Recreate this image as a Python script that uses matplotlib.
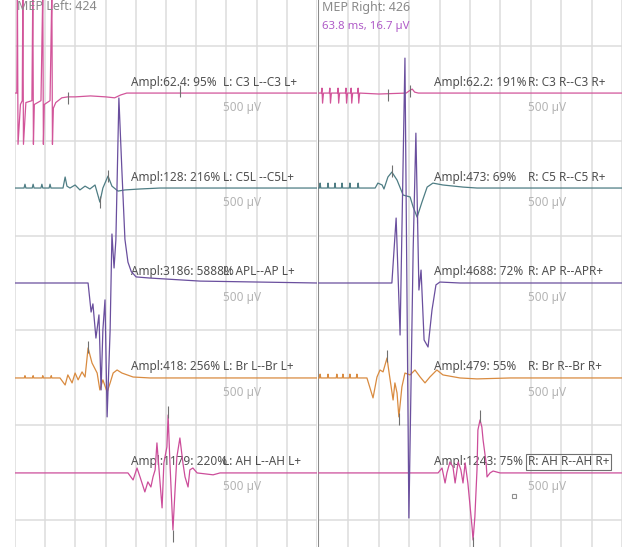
import matplotlib
matplotlib.use('Agg')
import matplotlib.pyplot as plt

plt.rcParams['font.family'] = ['Noto Sans', 'DejaVu Sans']

# time in ms (10 ms per division), amplitude in uV (500 uV per division)
channels_l = ['L: C3 L--C3 L+', 'L: C5L --C5L+', 'L: APL--AP L+', 'L: Br L--Br L+', 'L: AH L--AH L+']
channels_r = ['R: C3 R--C3 R+', 'R: C5 R--C5 R+', 'R: AP R--APR+', 'R: Br R--Br R+', 'R: AH R--AH R+']
ampl_l = ['Ampl:62.4: 95%', 'Ampl:128: 216%', 'Ampl:3186: 5888%', 'Ampl:418: 256%', 'Ampl:1179: 220%']
ampl_r = ['Ampl:62.2: 191%', 'Ampl:473: 69%', 'Ampl:4688: 72%', 'Ampl:479: 55%', 'Ampl:1243: 75%']
offsets = [0, -500, -1000, -1500, -2000]
colors = ['#d2559a', '#4e7d84', '#6a4f9e', '#d98b40', '#cc4d9a']

c3_l_t = [0, 0.6, 0.8, 1.0, 1.8, 2.4, 2.6, 2.8, 3.6, 5.6, 5.9, 6.1, 6.4, 8.6, 9.2, 9.4, 9.7, 11.6, 12.2, 12.4,
          12.7, 13.5, 15.5, 17.5, 20, 25, 30, 33, 35, 37, 40, 100]
c3_l_uv = [0, 0, 540, -270, -60, -40, 540, -270, -50, -40, 540, -270, -60, -40, 540, -270, -60, -40, 540, -270,
           -80, -50, -25, -20, -20, -15, -20, -25, -10, 0, 0, 0]
c5_l_t = [0, 3.0, 3.3, 3.6, 5.7, 6.0, 6.3, 8.6, 8.9, 9.2, 11.3, 11.6, 11.9, 15.9, 16.6, 17.2, 18.2, 19.9, 21.5,
          23.2, 24.8, 26.5, 28.1, 29.1, 30.8, 32.1, 34.1, 36.4, 41.4, 48, 100]
c5_l_uv = [0, 0, 20, 0, 0, 20, 0, 0, 20, 0, 0, 20, 0, 0, 58, 10, 0, 16, -10, 10, -5, 16, -74, 0, 63, 10, -16,
           -10, -5, 0, 0]
ap_l_t = [0, 24.2, 25.2, 25.8, 26.8, 27.8, 28.5, 29.1, 29.8, 30.5, 31.5, 32.1, 32.8, 33.4, 34.4, 35.4, 36.4,
          37.4, 38.5, 40.1, 44.7, 61.3, 100]
ap_l_uv = [0, 0, -153, -110, -290, -168, -563, -247, -89, -705, -247, 258, 79, 226, 974, 590, 230, 110, 60, 32,
           26, 10, 0]
br_l_t = [0, 3.1, 3.3, 3.5, 5.8, 6.0, 6.2, 9.0, 9.2, 9.4, 11.8, 12.0, 12.2, 14.9, 16.6, 17.5, 18.9, 19.9, 20.9,
          22.2, 23.2, 24.2, 25.5, 27.2, 28.1, 29.1, 30.5, 31.5, 32.5, 33.8, 35.4, 39.1, 44.7, 100]
br_l_uv = [0, 0, 12, 0, 0, 12, 0, 0, 12, 0, 0, 12, 0, 0, -37, 16, -26, 26, -10, 32, 5, 158, 79, 26, -63, -10,
           -74, -26, 26, 42, 26, 5, 0, 0]
ah_l_t = [0, 37.4, 39.1, 40.4, 41.4, 43.0, 44.0, 45.0, 45.7, 46.4, 47.0, 47.7, 48.7, 49.3, 50.3, 50.7, 51.3,
          52.3, 53.0, 53.6, 54.6, 55.6, 56.3, 57.3, 57.9, 58.9, 60.3, 65.6, 67.9, 100]
ah_l_uv = [0, 0, -37, 26, -21, -100, -47, -74, -21, 16, 158, 16, -184, 53, 137, 305, 53, -300, -89, 84, 184,
           53, -21, -74, 16, 26, 0, -10, 0, 0]

c3_r_t = [0, 1.1, 1.3, 1.5, 1.8, 3.7, 3.9, 4.1, 4.4, 6.4, 6.6, 6.8, 7.1, 9.0, 9.2, 9.4, 9.7, 10.7, 10.9, 11.1,
          11.4, 13.0, 13.2, 13.4, 13.7, 20, 29, 30.3, 31.0, 31.8, 33, 100]
c3_r_uv = [0, 0, 26, -53, 0, 0, 26, -53, 0, 0, 26, -53, 0, 0, 26, -53, 0, 0, 26, -53, 0, 0, 26, -53, 0, -5, 0,
           15, 21, 5, 0, 0]
c5_r_t = [0, 0.5, 0.7, 0.9, 3.1, 3.3, 3.5, 5.4, 5.6, 5.8, 7.7, 7.9, 8.1, 10.3, 10.5, 10.7, 13.0, 13.2, 13.4,
          18.8, 19.7, 21.1, 21.7, 23.0, 24.3, 26.0, 28.0, 30.3, 31.3, 32.6, 34.2, 35.9, 37.8, 41.1, 47.7, 52.3, 100]
c5_r_uv = [0, 0, 26, 0, 0, 26, 0, 0, 26, 0, 0, 26, 0, 0, 26, 0, 0, 26, 0, 0, 26, 16, -5, 58, 84, 42, -37, -47,
           -100, -153, -74, 5, 26, 16, 5, 0, 0]
ap_r_t = [0, 24.3, 25.7, 27.0, 28.6, 29.9, 31.3, 32.2, 33.2, 33.9, 34.9, 36.2, 37.5, 38.8, 40.1, 46.7, 100]
ap_r_uv = [0, 0, 342, -274, 1184, -1237, 174, 789, -37, 68, -300, -337, -142, -10, 5, 0, 0]
br_r_t = [0, 0.5, 0.7, 0.9, 3.1, 3.3, 3.5, 6.0, 6.2, 6.4, 8.0, 8.2, 8.4, 10.3, 10.5, 10.7, 12.6, 12.8, 13.0,
          16.1, 18.1, 19.4, 20.4, 21.4, 22.7, 23.4, 24.7, 25.3, 26.0, 26.6, 27.6, 28.6, 30.3, 31.9, 33.6, 35.2,
          36.8, 39.1, 41.1, 46.7, 52.3, 63.2, 100]
br_r_uv = [0, 0, 20, 0, 0, 20, 0, 0, 20, 0, 0, 20, 0, 0, 20, 0, 0, 20, 0, 0, -105, 5, 42, 32, 105, 26, -116,
           -26, -79, -205, -47, 26, 16, 42, 5, -26, 5, 42, 16, 0, -5, 0, 0]
ah_r_t = [0, 39.5, 40.8, 41.8, 42.4, 43.4, 44.4, 45.1, 46.1, 47.0, 47.7, 48.4, 49.3, 50.7, 51.0, 51.6, 52.3,
          52.6, 53.3, 53.9, 54.3, 55.3, 55.6, 56.6, 57.6, 59.9, 100]
ah_r_uv = [0, 0, 26, -53, 0, 58, 32, -53, 58, 16, -53, 53, -53, -289, -353, -232, 16, 226, 279, 242, 174, 53,
           -21, 0, 10, 0, 0]

# cursor marks
mark_l_t = [17.5, 54.6, 28.1, 30.8, 24.2, 50.7, 52.3]
mark_l_ch = [0, 0, 1, 1, 3, 4, 4]
mark_l_uv = [-26, 10, -74, 63, 165, 320, -330]
mark_r_t = [23.0, 30.3, 24.3, 32.6, 22.7, 26.6, 53.3, 51.0]
mark_r_ch = [0, 0, 1, 1, 3, 3, 4, 4]
mark_r_uv = [-10, 10, 90, -150, 115, -215, 300, -370]

traces_l = [(c3_l_t, c3_l_uv), (c5_l_t, c5_l_uv), (ap_l_t, ap_l_uv), (br_l_t, br_l_uv), (ah_l_t, ah_l_uv)]
traces_r = [(c3_r_t, c3_r_uv), (c5_r_t, c5_r_uv), (ap_r_t, ap_r_uv), (br_r_t, br_r_uv), (ah_r_t, ah_r_uv)]

fig = plt.figure(figsize=(6.35, 5.47), dpi=100)
ax_l = fig.add_axes([15 / 635, 0, 302 / 635, 1])
ax_r = fig.add_axes([318 / 635, 0, 304 / 635, 1])


def draw_panel(ax, traces, ampl, names, mt, mch, muv):
    ax.set_xlim(0, 100)
    ax.set_ylim(-2390, 490)
    ax.set_xticks(range(0, 101, 10))
    ax.set_yticks([250 - 500 * k for k in range(6)])
    ax.grid(True, color='#dcdcdc', lw=1.1)
    ax.tick_params(length=0, labelbottom=False, labelleft=False)
    for s in ax.spines.values():
        s.set_visible(False)
    ax.set_axisbelow(True)
    for k, (t, uv) in enumerate(traces):
        y = [offsets[k] + v for v in uv]
        ax.plot(t, y, color=colors[k], lw=0.9, zorder=5 if k == 2 else 3)
        ax.text(38.3, offsets[k] + 58, ampl[k], fontsize=8.5, color='#505050', va='center', zorder=2)
        ax.text(69, offsets[k] + 58, names[k], fontsize=8.5, color='#505050', va='center', zorder=2)
        ax.text(69, offsets[k] - 74, '500 µV', fontsize=8.5, color='#b4b4b4', va='center', zorder=2)
    ax.plot(mt, [offsets[c] + v for c, v in zip(mch, muv)], ls='none', marker='|',
            ms=9, mew=0.8, color='#707070', zorder=4)


draw_panel(ax_l, traces_l, ampl_l, channels_l, mark_l_t, mark_l_ch, mark_l_uv)
draw_panel(ax_r, traces_r, ampl_r, channels_r, mark_r_t, mark_r_ch, mark_r_uv)

ax_r.axvline(0, color='#8c8c8c', lw=1.5, zorder=1)
ax_r.texts[-2].set_bbox(dict(facecolor='none', edgecolor='#707070', lw=0.8, pad=1.2))
ax_r.plot([64.5], [-2121], ls='none', marker='s', ms=3, mfc='none', mec='#909090', mew=0.8)

fig.text(17 / 635, 1 - 7 / 547, 'MEP Left: 424', fontsize=9, color='#8a8a8a', va='center')
fig.text(322 / 635, 1 - 7 / 547, 'MEP Right: 426', fontsize=9, color='#8a8a8a', va='center')
fig.text(322 / 635, 1 - 27 / 547, '63.8 ms, 16.7 µV', fontsize=8.2, color='#b05cc8', va='center')

fig.savefig('out.png', dpi=100)
